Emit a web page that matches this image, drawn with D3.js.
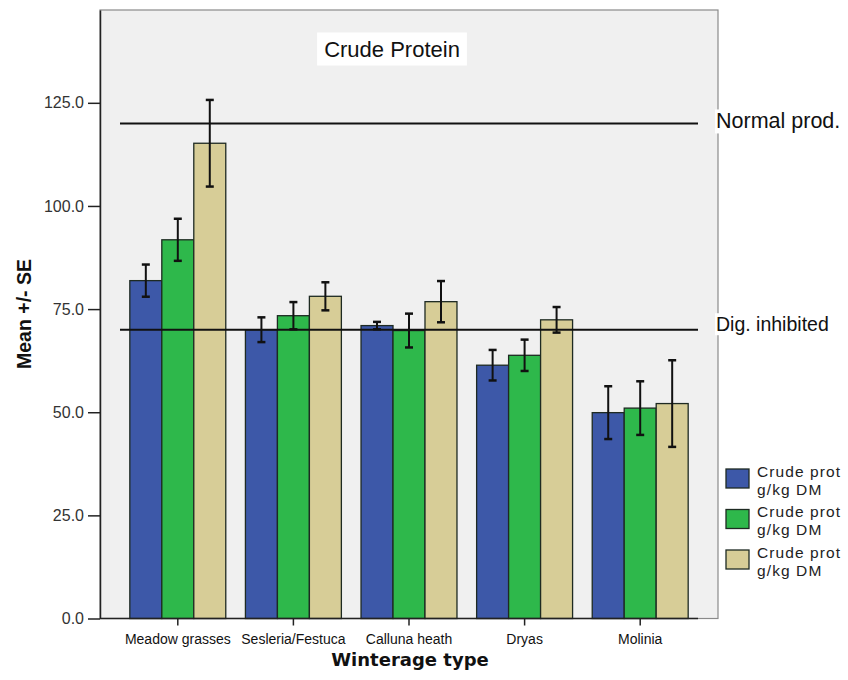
<!DOCTYPE html>
<html>
<head>
<meta charset="utf-8">
<script src="https://cdn.jsdelivr.net/npm/d3@7"></script>
<style>
  body { margin: 0; background: #fff; }
  text { font-family: Arial, "Liberation Sans", sans-serif; }
</style>
</head>
<body>
<div id="chart"></div>
<script>
var categories = ["Meadow grasses", "Sesleria/Festuca", "Calluna heath", "Dryas", "Molinia"];
var seriesNames = ["Crude prot|g/kg DM", "Crude prot|g/kg DM", "Crude prot|g/kg DM"];
var means1 = [81.9, 70.0, 71.0, 61.4, 49.9];
var se1 = [3.9, 3.0, 0.9, 3.7, 6.4];
var means2 = [91.8, 73.4, 69.8, 63.8, 51.0];
var se2 = [5.1, 3.3, 4.1, 3.8, 6.5];
var means3 = [115.2, 78.1, 76.8, 72.4, 52.1];
var se3 = [10.5, 3.4, 5.0, 3.1, 10.5];
var refValues = [120, 70];
var refLabels = ["Normal prod.", "Dig. inhibited"];
var yTicks = [0, 25, 50, 75, 100, 125];
var colors = ["#3d58a8", "#2eb84b", "#d7cd97"];

var means = [means1, means2, means3];
var ses = [se1, se2, se3];

var svg = d3.select('#chart')
  .append('svg')
  .attr('width', 848)
  .attr('height', 680);

var x = d3.scaleBand()
  .domain(categories)
  .range([120, 698])
  .paddingInner(0.17)
  .paddingOuter(0.085);

var xSub = d3.scaleBand()
  .domain([0, 1, 2])
  .range([0, x.bandwidth()]);

var y = d3.scaleLinear()
  .domain([0, 147.5])
  .range([618.5, 10]);

// plot frame
svg.append('rect')
  .attr('x', 100)
  .attr('y', 10)
  .attr('width', 618)
  .attr('height', 608.5)
  .attr('fill', '#f0f0f0')
  .attr('stroke', '#8a8a8a')
  .attr('stroke-width', 1.2);

// y axis
var yAxis = svg.append('g')
  .attr('transform', 'translate(100,0)')
  .call(d3.axisLeft(y).tickValues(yTicks).tickFormat(d3.format('.1f')).tickSize(12).tickSizeOuter(0));
yAxis.select('.domain').attr('stroke', '#222').attr('stroke-width', 1.5);
yAxis.selectAll('.tick line').attr('stroke', '#222').attr('stroke-width', 1.5);
yAxis.selectAll('.tick text')
  .attr('font-size', 16)
  .attr('fill', '#333')
  .attr('x', -16)
  .style('font-family', 'Arial, "Liberation Sans", sans-serif');

// x axis
var xAxis = svg.append('g')
  .attr('transform', 'translate(0,' + y(0) + ')')
  .call(d3.axisBottom(x).tickSize(7).tickSizeOuter(0));
xAxis.select('.domain').remove();
xAxis.selectAll('.tick line').attr('stroke', '#222').attr('stroke-width', 1.5);
xAxis.selectAll('.tick text')
  .attr('font-size', 14)
  .attr('fill', '#111')
  .attr('y', 25)
  .attr('dy', 0)
  .style('font-family', 'Arial, "Liberation Sans", sans-serif');

// bars
var groups = svg.selectAll('g.group')
  .data(categories)
  .enter()
    .append('g')
    .classed('group', true)
    .attr('transform', function(d){ return 'translate(' + x(d) + ',0)'; });

groups.selectAll('rect.bar')
  .data(function(d, i){ return [0, 1, 2].map(function(s){ return {s: s, v: means[s][i], e: ses[s][i]}; }); })
  .enter()
    .append('rect')
    .classed('bar', true)
    .attr('x', function(d){ return xSub(d.s); })
    .attr('y', function(d){ return y(d.v); })
    .attr('width', xSub.bandwidth())
    .attr('height', function(d){ return y(0) - y(d.v); })
    .attr('fill', function(d){ return colors[d.s]; })
    .attr('stroke', '#1e2a22')
    .attr('stroke-width', 1.3);

// baseline
svg.append('line')
  .attr('x1', 100).attr('x2', 698)
  .attr('y1', y(0)).attr('y2', y(0))
  .attr('stroke', '#222').attr('stroke-width', 1.5);

// labels with a white box behind them
function boxedText(px, py, anchor, txt, size, padX, padY){
  var t = svg.append('text')
    .attr('x', px)
    .attr('y', py)
    .attr('text-anchor', anchor)
    .attr('font-size', size)
    .attr('fill', '#111')
    .text(txt);
  var bb = t.node().getBBox();
  svg.insert('rect', function(){ return t.node(); })
    .attr('x', bb.x - padX).attr('y', bb.y - padY)
    .attr('width', bb.width + padX * 2).attr('height', bb.height + padY * 2)
    .attr('fill', '#fff');
}

// reference lines
var refSizes = [21.5, 19.5];
var refShift = [5, 1.5];
refValues.forEach(function(v, i){
  svg.append('line')
    .attr('x1', 120).attr('x2', 698)
    .attr('y1', y(v)).attr('y2', y(v))
    .attr('stroke', '#111').attr('stroke-width', 2);
  boxedText(716, y(v) + refShift[i], 'start', refLabels[i], refSizes[i], 1, 0);
});

// error bars
var err = groups.selectAll('g.err')
  .data(function(d, i){ return [0, 1, 2].map(function(s){ return {s: s, v: means[s][i], e: ses[s][i]}; }); })
  .enter()
    .append('g')
    .classed('err', true)
    .attr('transform', function(d){ return 'translate(' + (xSub(d.s) + xSub.bandwidth() / 2) + ',0)'; });
err.append('line')
  .attr('y1', function(d){ return y(d.v - d.e); })
  .attr('y2', function(d){ return y(d.v + d.e); })
  .attr('stroke', '#111').attr('stroke-width', 2);
err.append('line')
  .attr('x1', -4).attr('x2', 4)
  .attr('y1', function(d){ return y(d.v + d.e); })
  .attr('y2', function(d){ return y(d.v + d.e); })
  .attr('stroke', '#111').attr('stroke-width', 2.5);
err.append('line')
  .attr('x1', -4).attr('x2', 4)
  .attr('y1', function(d){ return y(d.v - d.e); })
  .attr('y2', function(d){ return y(d.v - d.e); })
  .attr('stroke', '#111').attr('stroke-width', 2.5);

// title
boxedText(392, 56.5, 'middle', 'Crude Protein', 22, 7, 4);

// axis titles
svg.append('text')
  .attr('x', 410)
  .attr('y', 666)
  .attr('text-anchor', 'middle')
  .attr('font-size', 18)
  .attr('font-weight', 'bold')
  .attr('fill', '#111')
  .style('font-family', '"DejaVu Sans", Verdana, sans-serif')
  .text('Winterage type');

svg.append('text')
  .attr('transform', 'translate(31,314) rotate(-90)')
  .attr('text-anchor', 'middle')
  .attr('font-size', 19.5)
  .attr('font-weight', 'bold')
  .attr('fill', '#111')
  .text('Mean +/- SE');

// legend
var legend = svg.selectAll('g.legend')
  .data(seriesNames)
  .enter()
    .append('g')
    .classed('legend', true)
    .attr('transform', function(d, i){ return 'translate(726,' + (469 + i * 40.5) + ')'; });
legend.append('rect')
  .attr('width', 23)
  .attr('height', 19)
  .attr('fill', function(d, i){ return colors[i]; })
  .attr('stroke', '#1e2a22')
  .attr('stroke-width', 1.3);
var legendText = legend.append('text')
  .attr('y', 7.5)
  .attr('font-size', 15.5)
  .attr('letter-spacing', 1.1)
  .attr('fill', '#222');
legendText.append('tspan')
  .attr('x', 31)
  .text(function(d){ return d.split('|')[0]; });
legendText.append('tspan')
  .attr('x', 31)
  .attr('dy', 18)
  .text(function(d){ return d.split('|')[1]; });
</script>
</body>
</html>
